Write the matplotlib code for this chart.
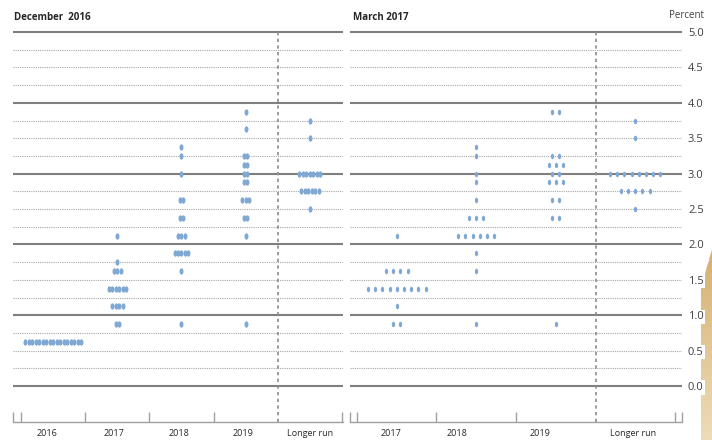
import numpy as np
import matplotlib
matplotlib.use("Agg")
import matplotlib.pyplot as plt
from matplotlib.markers import MarkerStyle
from matplotlib.transforms import Affine2D, blended_transform_factory
from matplotlib.patches import Polygon
from matplotlib.colors import to_rgb

plt.rcParams['font.family'] = ['Open Sans', 'DejaVu Sans']

# ---------------- data ----------------
dec_title = "December  2016"
mar_title = "March 2017"
dec_labels = ["2016", "2017", "2018", "2019", "Longer run"]
mar_labels = ["2017", "2018", "2019", "Longer run"]

# December 2016 projections (rate, number of participants)
dec_2016_rates = [0.625]
dec_2016_counts = [17]
dec_2017_rates = [0.875, 1.125, 1.375, 1.625, 1.75, 2.125]
dec_2017_counts = [2, 4, 6, 3, 1, 1]
dec_2018_rates = [0.875, 1.625, 1.875, 2.125, 2.375, 2.625, 3.0, 3.25, 3.375]
dec_2018_counts = [1, 1, 5, 3, 2, 2, 1, 1, 1]
dec_2019_rates = [0.875, 2.125, 2.375, 2.625, 2.875, 3.0, 3.125, 3.25, 3.625, 3.875]
dec_2019_counts = [1, 1, 2, 3, 2, 2, 2, 2, 1, 1]
dec_lr_rates = [2.5, 2.75, 3.0, 3.5, 3.75]
dec_lr_counts = [1, 6, 7, 1, 1]

# March 2017 projections
mar_2017_rates = [0.875, 1.125, 1.375, 1.625, 2.125]
mar_2017_counts = [2, 1, 9, 4, 1]
mar_2018_rates = [0.875, 1.625, 1.875, 2.125, 2.375, 2.625, 2.875, 3.0, 3.25, 3.375]
mar_2018_counts = [1, 1, 1, 6, 3, 1, 1, 1, 1, 1]
mar_2019_rates = [0.875, 2.375, 2.625, 2.875, 3.0, 3.125, 3.25, 3.875]
mar_2019_counts = [1, 2, 2, 3, 2, 3, 2, 2]
mar_lr_rates = [2.5, 2.75, 3.0, 3.5, 3.75]
mar_lr_counts = [1, 5, 8, 1, 1]

y_ticks = [0.0, 0.5, 1.0, 1.5, 2.0, 2.5, 3.0, 3.5, 4.0, 4.5, 5.0]

dec_cols = [(dec_2016_rates, dec_2016_counts), (dec_2017_rates, dec_2017_counts),
            (dec_2018_rates, dec_2018_counts), (dec_2019_rates, dec_2019_counts),
            (dec_lr_rates, dec_lr_counts)]
mar_cols = [(mar_2017_rates, mar_2017_counts), (mar_2018_rates, mar_2018_counts),
            (mar_2019_rates, mar_2019_counts), (mar_lr_rates, mar_lr_counts)]

# ---------------- figure ----------------
W, H = 712, 440
fig = plt.figure(figsize=(W / 100, H / 100), dpi=100)

YMIN, YMAX = -0.508, 5.05
ax_bottom = 18 / H
ax_height = (422 - 28.46) / H

# decorative tan arrow at the right edge (drawn first, under the labels)
ax0 = fig.add_axes([0, 0, 1, 1])
ax0.set_xlim(0, W)
ax0.set_ylim(H, 0)
ax0.axis('off')
top_c = np.array(to_rgb('#d6b073'))
bot_c = np.array(to_rgb('#ecdbb6'))
n_bands = 24
y_top, y_bot = 250.0, float(H)
x_l, x_r = 700.5, float(W)
y_neck = 288.0
for i in range(n_bands):
    y0 = y_top + (y_bot - y_top) * i / n_bands
    y1 = y_top + (y_bot - y_top) * (i + 1) / n_bands + 0.6
    def xl(y):
        if y >= y_neck:
            return x_l
        return x_r - (x_r - x_l) * (y - y_top) / (y_neck - y_top)
    pts = [[xl(y0), y0], [x_r, y0], [x_r, y1], [xl(min(y1, y_bot)), y1]]
    if y0 < y_neck < y1:
        pts = [[xl(y0), y0], [x_r, y0], [x_r, y1], [x_l, y1], [x_l, y_neck]]
    c = top_c + (bot_c - top_c) * (i / (n_bands - 1))
    ax0.add_patch(Polygon(pts, closed=True, facecolor=c, edgecolor='none'))

ax1 = fig.add_axes([13 / W, ax_bottom, 330 / W, ax_height])
ax2 = fig.add_axes([350 / W, ax_bottom, 332 / W, ax_height])

DOT = '#80a8d4'
GRID_SOLID = '#7f7f7f'
GRID_DOT = '#a6a6a6'
AXIS = '#a0a0a0'
TXT = '#262626'


def setup(ax, xlim):
    ax.set_xlim(*xlim)
    ax.set_ylim(YMIN, YMAX)
    ax.set_facecolor('none')
    for s in ['top', 'left', 'right']:
        ax.spines[s].set_visible(False)
    ax.spines['bottom'].set_color(AXIS)
    ax.spines['bottom'].set_linewidth(1.0)
    ax.tick_params(axis='x', direction='in', length=7, color=AXIS, width=1.0,
                   labelbottom=False)
    for k in range(0, 21):
        v = k * 0.25
        if k % 4 == 0:
            ax.axhline(v, color=GRID_SOLID, lw=1.5, zorder=1)
        else:
            ax.axhline(v, color=GRID_DOT, lw=0.8, ls=(0, (1, 1)), zorder=1)


def draw_dots(ax, cols, spacing, ms, wscale):
    mk = MarkerStyle('o', transform=Affine2D().scale(wscale, 1.0))
    for ci, (rates, counts) in enumerate(cols):
        for r, n in zip(rates, counts):
            xs = ci + (np.arange(n) - (n - 1) / 2) * spacing
            ax.plot(xs, [r] * n, ls='none', marker=mk, ms=ms, mfc=DOT,
                    mec='none', zorder=3)


# left panel
xl1 = (-0.6246, 4.5156)
setup(ax1, xl1)
ax1.set_xticks([xl1[0], -0.5, 0.5, 1.5, 2.5, 4.5])
ax1.axvline(3.5, ymin=0, ymax=(5.0 - YMIN) / (YMAX - YMIN), color='#8c8c8c',
            lw=1.2, ls=(0, (2, 2)), zorder=2)
draw_dots(ax1, dec_cols, 0.0545, 4.6, 0.62)
tr1 = blended_transform_factory(ax1.transData, ax1.transAxes)
dec_label_x = [-0.095, 0.949, 1.961, 2.958, 4.0]
for lx, lab in zip(dec_label_x, dec_labels):
    ax1.text(lx, -0.028, lab, transform=tr1, ha='center', va='center',
             fontsize=6.5, color=TXT)
ax1.tick_params(axis='y', left=False, labelleft=False)

# right panel
xl2 = (-0.588, 3.588)
setup(ax2, xl2)
ax2.set_xticks([xl2[0], -0.5, 0.5, 1.5, 3.5, xl2[1]])
ax2.axvline(2.5, ymin=0, ymax=(5.0 - YMIN) / (YMAX - YMIN), color='#8c8c8c',
            lw=1.2, ls=(0, (2, 2)), zorder=2)
draw_dots(ax2, mar_cols, 0.0906, 4.0, 0.6)
tr2 = blended_transform_factory(ax2.transData, ax2.transAxes)
mar_label_x = [-0.072, 0.758, 1.80, 2.97]
for lx, lab in zip(mar_label_x, mar_labels):
    ax2.text(lx, -0.028, lab, transform=tr2, ha='center', va='center',
             fontsize=6.5, color=TXT)
ax2.yaxis.tick_right()
ax2.set_yticks(y_ticks)
ax2.set_yticklabels([f"{v:.1f}" for v in y_ticks])
ax2.tick_params(axis='y', length=0, pad=4.3, labelsize=8, labelcolor='#404040',
                left=False, right=True)
for t in ax2.get_yticklabels():
    t.set_bbox(dict(facecolor='white', edgecolor='none', pad=1.2))

# titles
fig.text(14 / W, 1 - 17 / H, dec_title, fontsize=7, fontweight='bold',
         color=TXT, ha='left', va='center')
fig.text(353 / W, 1 - 17 / H, mar_title, fontsize=7, fontweight='bold',
         color=TXT, ha='left', va='center')
fig.text(704 / W, 1 - 16 / H, "Percent", fontsize=7, color='#404040',
         ha='right', va='center')

fig.savefig('out.png', dpi=100)
